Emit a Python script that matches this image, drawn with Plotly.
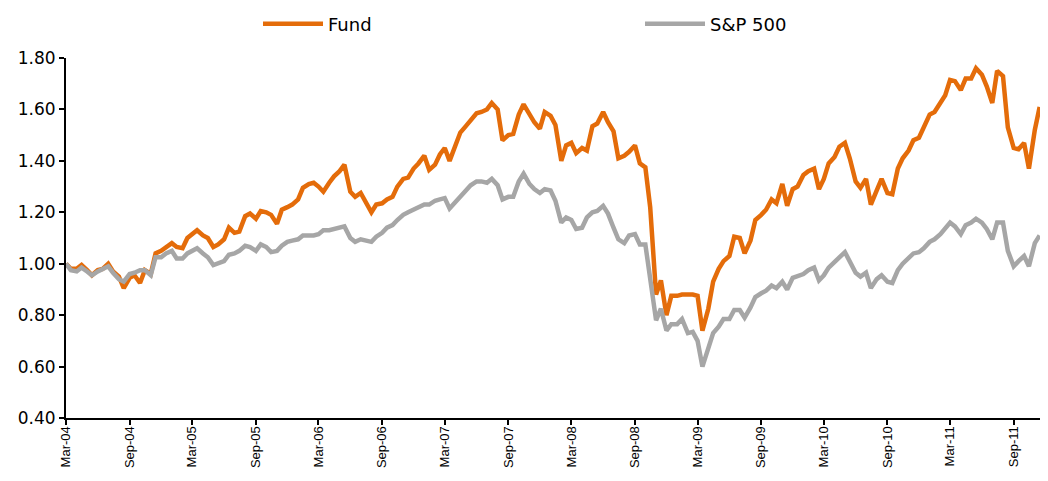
import pandas as pd
import plotly.graph_objects as go

# Semi-monthly observation dates (1st and 15th), Mar 2004 - Nov 2011
dates = pd.date_range("2004-03-01", periods=186, freq="SMS")

fund = [
    1.00, 0.98, 0.98, 0.995, 0.975, 0.955, 0.975, 0.98, 1.00, 0.97,
    0.95, 0.905, 0.945, 0.955, 0.925, 0.975, 0.96, 1.04, 1.05, 1.065,
    1.08, 1.065, 1.06, 1.10, 1.115, 1.13, 1.11, 1.10, 1.065, 1.075,
    1.095, 1.14, 1.12, 1.125, 1.185, 1.195, 1.175, 1.205, 1.20, 1.19,
    1.155, 1.21, 1.22, 1.23, 1.25, 1.295, 1.31, 1.315, 1.30, 1.28,
    1.315, 1.34, 1.36, 1.385, 1.28, 1.26, 1.275, 1.24, 1.20, 1.23,
    1.235, 1.25, 1.26, 1.30, 1.33, 1.335, 1.37, 1.39, 1.42, 1.365,
    1.385, 1.425, 1.45, 1.40, 1.465, 1.51, 1.535, 1.56, 1.585, 1.59,
    1.60, 1.625, 1.60, 1.48, 1.50, 1.505, 1.58, 1.62, 1.585, 1.55,
    1.525, 1.59, 1.575, 1.54, 1.40, 1.46, 1.47, 1.43, 1.45, 1.44,
    1.535, 1.545, 1.59, 1.55, 1.515, 1.41, 1.42, 1.435, 1.46, 1.39,
    1.375, 1.22, 0.88, 0.935, 0.80, 0.875, 0.875, 0.88, 0.88, 0.88,
    0.875, 0.74, 0.825, 0.93, 0.98, 1.01, 1.03, 1.105, 1.10, 1.04,
    1.09, 1.17, 1.19, 1.21, 1.25, 1.235, 1.31, 1.225, 1.29, 1.30,
    1.345, 1.36, 1.37, 1.29, 1.33, 1.39, 1.415, 1.455, 1.47, 1.41,
    1.32, 1.295, 1.33, 1.23, 1.285, 1.33, 1.275, 1.27, 1.37, 1.41,
    1.44, 1.48, 1.49, 1.53, 1.58, 1.59, 1.63, 1.655, 1.715, 1.71,
    1.675, 1.72, 1.72, 1.76, 1.735, 1.69, 1.625, 1.75, 1.73, 1.53,
    1.45, 1.445, 1.47, 1.37, 1.52, 1.61,
]

sp500 = [
    1.00, 0.975, 0.97, 0.985, 0.97, 0.955, 0.97, 0.98, 0.99, 0.965,
    0.94, 0.93, 0.96, 0.965, 0.975, 0.975, 0.955, 1.025, 1.025, 1.04,
    1.05, 1.02, 1.02, 1.04, 1.05, 1.06, 1.04, 1.025, 0.995, 1.00,
    1.01, 1.035, 1.04, 1.05, 1.07, 1.065, 1.05, 1.075, 1.065, 1.045,
    1.05, 1.07, 1.085, 1.09, 1.095, 1.11, 1.11, 1.11, 1.115, 1.13,
    1.13, 1.135, 1.14, 1.145, 1.10, 1.085, 1.095, 1.09, 1.085, 1.105,
    1.12, 1.14, 1.15, 1.17, 1.19, 1.20, 1.21, 1.22, 1.23, 1.23,
    1.245, 1.25, 1.255, 1.215, 1.24, 1.26, 1.29, 1.305, 1.32, 1.32,
    1.315, 1.33, 1.305, 1.25, 1.26, 1.26, 1.32, 1.35, 1.31, 1.29,
    1.275, 1.29, 1.285, 1.245, 1.16, 1.18, 1.17, 1.135, 1.14, 1.18,
    1.20, 1.205, 1.225, 1.195, 1.14, 1.095, 1.08, 1.11, 1.115, 1.075,
    1.075, 0.93, 0.78, 0.825, 0.74, 0.765, 0.765, 0.785, 0.73, 0.735,
    0.70, 0.60, 0.675, 0.73, 0.755, 0.785, 0.785, 0.82, 0.82, 0.79,
    0.83, 0.87, 0.885, 0.895, 0.915, 0.905, 0.93, 0.90, 0.945, 0.95,
    0.96, 0.975, 0.985, 0.935, 0.955, 0.985, 1.01, 1.025, 1.045, 1.01,
    0.965, 0.95, 0.965, 0.905, 0.94, 0.955, 0.93, 0.925, 0.975, 1.00,
    1.02, 1.04, 1.045, 1.06, 1.085, 1.095, 1.115, 1.135, 1.16, 1.145,
    1.115, 1.15, 1.16, 1.175, 1.16, 1.135, 1.095, 1.16, 1.16, 1.05,
    0.99, 1.01, 1.03, 0.99, 1.08, 1.11,
]

tick_dates = pd.date_range("2004-03-01", "2011-09-01", freq="6MS")
tick_labels = [d.strftime("%b-%y") for d in tick_dates]
y_ticks = [0.40, 0.60, 0.80, 1.00, 1.20, 1.40, 1.60, 1.80]

W, H = 1032, 465  # page body adds an 8px margin on every side

fig = go.Figure()
fig.add_trace(go.Scatter(x=dates, y=fund, name="Fund", mode="lines",
                         line=dict(color="#E46C0A", width=4.5)))
fig.add_trace(go.Scatter(x=dates, y=sp500, name="S&P 500", mode="lines",
                         line=dict(color="#A6A6A6", width=4.5)))

fig.update_layout(
    width=W, height=H,
    margin=dict(l=58, r=0, t=50, b=55, autoexpand=False),
    paper_bgcolor="white", plot_bgcolor="white",
    font=dict(family="DejaVu Sans, Liberation Sans, sans-serif", size=15, color="black"),
    showlegend=True,
    legend=dict(orientation="h", x=250 / W, xanchor="left", xref="container",
                y=1 - 16 / H, yanchor="middle", yref="container",
                font=dict(family="DejaVu Sans, sans-serif", size=18),
                itemwidth=60, entrywidth=307, entrywidthmode="pixels"),
)
fig.update_xaxes(
    type="date", range=["2004-03-01", "2011-11-16"],
    tickvals=list(tick_dates), ticktext=tick_labels, tickangle=-90,
    showgrid=False, zeroline=False, automargin=False,
    showline=True, linecolor="black", linewidth=2,
    ticks="outside", tickcolor="black", ticklen=5, tickwidth=1.5,
    ticklabelstandoff=-4,
    tickfont=dict(family="Liberation Sans, Arial, sans-serif", size=13),
)
fig.update_yaxes(
    range=[0.4, 1.8], tickvals=y_ticks, tickformat=".2f",
    showgrid=False, zeroline=False, automargin=False,
    showline=True, linecolor="black", linewidth=2,
    ticks="outside", tickcolor="black", ticklen=5, tickwidth=1.5,
    tickfont=dict(size=17),
)

fig.write_html("out.html")
